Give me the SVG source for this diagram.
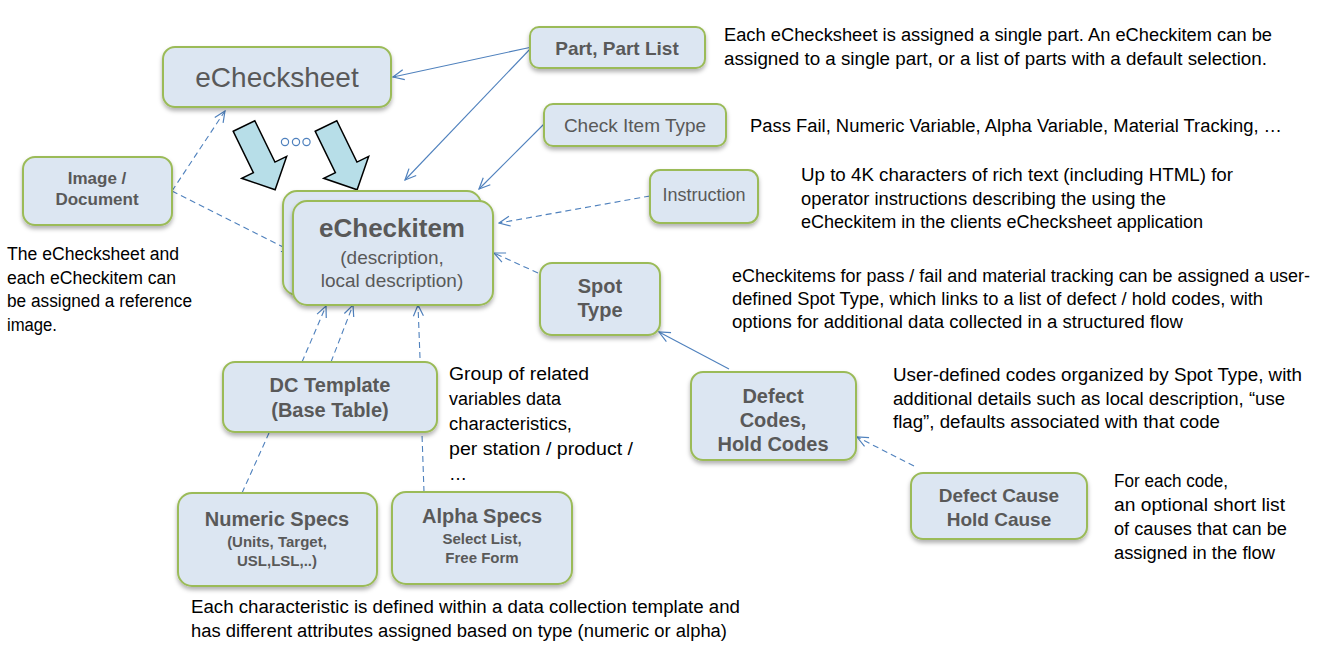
<svg xmlns="http://www.w3.org/2000/svg" width="1322" height="650" viewBox="0 0 1322 650">
<defs>
<filter id="sh" x="-20%" y="-20%" width="140%" height="150%">
<feDropShadow dx="0" dy="3" stdDeviation="2.2" flood-color="#000" flood-opacity="0.3"/>
</filter>
<marker id="ah" markerWidth="14" markerHeight="12" refX="0" refY="0" viewBox="-13 -6 14 12" orient="auto" markerUnits="userSpaceOnUse">
<path d="M-11,-5 L0,0 L-11,5" fill="none" stroke="#4F81BD" stroke-width="1.2"/>
</marker>
<style>
.box{fill:#DCE6F2;stroke:#9BBB59;stroke-width:2;filter:url(#sh)}
.nt{font-family:"Liberation Sans",Arial,sans-serif;fill:#595959;text-anchor:middle}
.b{font-weight:bold}
.d{font-family:"Liberation Sans",Arial,sans-serif;fill:#000;font-size:18px}
.ln{fill:none;stroke:#4F81BD;stroke-width:1.1}
.ds{stroke-dasharray:6 4}
.big{fill:#B7DEE8;stroke:#000;stroke-width:1.5}
</style>
</defs>
<rect width="1322" height="650" fill="#fff"/>

<g id="connectors">
<line class="ln" x1="532" y1="47" x2="393" y2="77" marker-end="url(#ah)"/>
<line class="ln" x1="532" y1="47" x2="405" y2="180" marker-end="url(#ah)"/>
<line class="ln" x1="545" y1="123" x2="479" y2="189" marker-end="url(#ah)"/>
<line class="ln ds" x1="650" y1="196" x2="499" y2="223" marker-end="url(#ah)"/>
<line class="ln ds" x1="538" y1="273" x2="494" y2="253" marker-end="url(#ah)"/>
<line class="ln ds" x1="172" y1="191" x2="225" y2="111" marker-end="url(#ah)"/>
<line class="ln ds" x1="172" y1="191" x2="293" y2="252" marker-end="url(#ah)"/>
<line class="ln ds" x1="302" y1="362" x2="326" y2="306" marker-end="url(#ah)"/>
<line class="ln ds" x1="331" y1="362" x2="353" y2="305" marker-end="url(#ah)"/>
<line class="ln ds" x1="420" y1="358" x2="418" y2="305" marker-end="url(#ah)"/>
<line class="ln ds" x1="242" y1="493" x2="269" y2="433"/>
<line class="ln ds" x1="424" y1="492" x2="422" y2="434"/>
<line class="ln" x1="729" y1="369" x2="659" y2="332" marker-end="url(#ah)"/>
<line class="ln ds" x1="914" y1="466" x2="857" y2="437" marker-end="url(#ah)"/>
</g>

<g id="echecksheet">
<rect class="box" x="163" y="47" width="228" height="60" rx="12"/>
<text class="nt" x="277" y="87" font-size="28">eChecksheet</text>
</g>

<g id="flow-arrows">
<polygon class="big" transform="translate(244,126) rotate(-26)" points="-12,0 12,0 12,46 25,46 0,71 -25,46 -12,46"/>
<polygon class="big" transform="translate(326,126) rotate(-26)" points="-12,0 12,0 12,46 25,46 0,71 -25,46 -12,46"/>
<g fill="none" stroke="#4F81BD" stroke-width="1.2">
<circle cx="285" cy="142" r="3.6"/>
<circle cx="296" cy="142" r="3.6"/>
<circle cx="306.5" cy="142" r="3.6"/>
</g>
</g>

<g id="part-list">
<rect class="box" x="530" y="27" width="175" height="41" rx="9"/>
<text class="nt b" x="617" y="55" font-size="19">Part, Part List</text>
</g>
<text class="d" x="724" y="41" textLength="548" lengthAdjust="spacingAndGlyphs">Each eChecksheet is assigned a single part. An eCheckitem can be</text>
<text class="d" x="724" y="65" textLength="543" lengthAdjust="spacingAndGlyphs">assigned to a single part, or a list of parts with a default selection.</text>

<g id="check-item-type">
<rect class="box" x="544" y="104" width="182" height="42" rx="9"/>
<text class="nt" x="635" y="132" font-size="19">Check Item Type</text>
</g>
<text class="d" x="750" y="132" textLength="532" lengthAdjust="spacingAndGlyphs">Pass Fail, Numeric Variable, Alpha Variable, Material Tracking, …</text>

<g id="instruction">
<rect class="box" x="650" y="170" width="108" height="53" rx="10"/>
<text class="nt" x="704" y="201" font-size="18">Instruction</text>
</g>
<text class="d" x="801" y="181" textLength="432" lengthAdjust="spacingAndGlyphs">Up to 4K characters of rich text (including HTML) for</text>
<text class="d" x="801" y="205" textLength="365" lengthAdjust="spacingAndGlyphs">operator instructions describing the using the</text>
<text class="d" x="801" y="228" textLength="402" lengthAdjust="spacingAndGlyphs">eCheckitem in the clients eChecksheet application</text>

<g id="image-document">
<rect class="box" x="23" y="157" width="149" height="68" rx="12"/>
<text class="nt b" x="97" y="184" font-size="17">Image /</text>
<text class="nt b" x="97" y="205" font-size="17">Document</text>
</g>
<text class="d" x="7" y="260" textLength="172" lengthAdjust="spacingAndGlyphs">The eChecksheet and</text>
<text class="d" x="7" y="284" textLength="169" lengthAdjust="spacingAndGlyphs">each eCheckitem can</text>
<text class="d" x="7" y="307" textLength="185" lengthAdjust="spacingAndGlyphs">be assigned a reference</text>
<text class="d" x="7" y="331" textLength="50" lengthAdjust="spacingAndGlyphs">image.</text>

<g id="echeckitem">
<rect class="box" x="283" y="191" width="198" height="104" rx="14"/>
<rect class="box" x="293" y="201" width="200" height="104" rx="14"/>
<text class="nt b" x="392" y="237" font-size="26">eCheckitem</text>
<text class="nt" x="392" y="264" font-size="19">(description,</text>
<text class="nt" x="392" y="287" font-size="19">local description)</text>
</g>

<g id="spot-type">
<rect class="box" x="540" y="263" width="120" height="72" rx="12"/>
<text class="nt b" x="600" y="293" font-size="20">Spot</text>
<text class="nt b" x="600" y="317" font-size="20">Type</text>
</g>
<text class="d" x="732" y="282" textLength="578" lengthAdjust="spacingAndGlyphs">eCheckitems for pass / fail and material tracking can be assigned a user-</text>
<text class="d" x="732" y="305" textLength="531" lengthAdjust="spacingAndGlyphs">defined Spot Type, which links to a list of defect / hold codes, with</text>
<text class="d" x="732" y="328" textLength="451" lengthAdjust="spacingAndGlyphs">options for additional data collected in a structured flow</text>

<g id="dc-template">
<rect class="box" x="223" y="362" width="214" height="70" rx="12"/>
<text class="nt b" x="330" y="392" font-size="20">DC Template</text>
<text class="nt b" x="330" y="417" font-size="20">(Base Table)</text>
</g>
<text class="d" x="449" y="380" textLength="140" lengthAdjust="spacingAndGlyphs">Group of related</text>
<text class="d" x="449" y="405" textLength="112" lengthAdjust="spacingAndGlyphs">variables data</text>
<text class="d" x="449" y="430" textLength="123" lengthAdjust="spacingAndGlyphs">characteristics,</text>
<text class="d" x="449" y="455" textLength="184" lengthAdjust="spacingAndGlyphs">per station / product /</text>
<text class="d" x="449" y="480">…</text>

<g id="defect-codes">
<rect class="box" x="691" y="372" width="165" height="88" rx="12"/>
<text class="nt b" x="773" y="403" font-size="20">Defect</text>
<text class="nt b" x="773" y="427" font-size="20">Codes,</text>
<text class="nt b" x="773" y="451" font-size="20">Hold Codes</text>
</g>
<text class="d" x="893" y="381" textLength="409" lengthAdjust="spacingAndGlyphs">User-defined codes organized by Spot Type, with</text>
<text class="d" x="893" y="405" textLength="392" lengthAdjust="spacingAndGlyphs">additional details such as local description, “use</text>
<text class="d" x="893" y="428" textLength="327" lengthAdjust="spacingAndGlyphs">flag”, defaults associated with that code</text>

<g id="defect-cause">
<rect class="box" x="911" y="473" width="176" height="66" rx="12"/>
<text class="nt b" x="999" y="502" font-size="19">Defect Cause</text>
<text class="nt b" x="999" y="526" font-size="19">Hold Cause</text>
</g>
<text class="d" x="1114" y="487" textLength="114" lengthAdjust="spacingAndGlyphs">For each code,</text>
<text class="d" x="1114" y="511" textLength="171" lengthAdjust="spacingAndGlyphs">an optional short list</text>
<text class="d" x="1114" y="535" textLength="173" lengthAdjust="spacingAndGlyphs">of causes that can be</text>
<text class="d" x="1114" y="559" textLength="161" lengthAdjust="spacingAndGlyphs">assigned in the flow</text>

<g id="numeric-specs">
<rect class="box" x="178" y="493" width="199" height="93" rx="14"/>
<text class="nt b" x="277" y="526" font-size="20">Numeric Specs</text>
<text class="nt b" x="277" y="547" font-size="15">(Units, Target,</text>
<text class="nt b" x="277" y="566" font-size="15">USL,LSL,..)</text>
</g>

<g id="alpha-specs">
<rect class="box" x="392" y="492" width="180" height="92" rx="14"/>
<text class="nt b" x="482" y="523" font-size="20">Alpha Specs</text>
<text class="nt b" x="482" y="544" font-size="15">Select List,</text>
<text class="nt b" x="482" y="563" font-size="15">Free Form</text>
</g>

<text class="d" x="191" y="613" textLength="549" lengthAdjust="spacingAndGlyphs">Each characteristic is defined within a data collection template and</text>
<text class="d" x="191" y="637" textLength="536" lengthAdjust="spacingAndGlyphs">has different attributes assigned based on type (numeric or alpha)</text>
</svg>
